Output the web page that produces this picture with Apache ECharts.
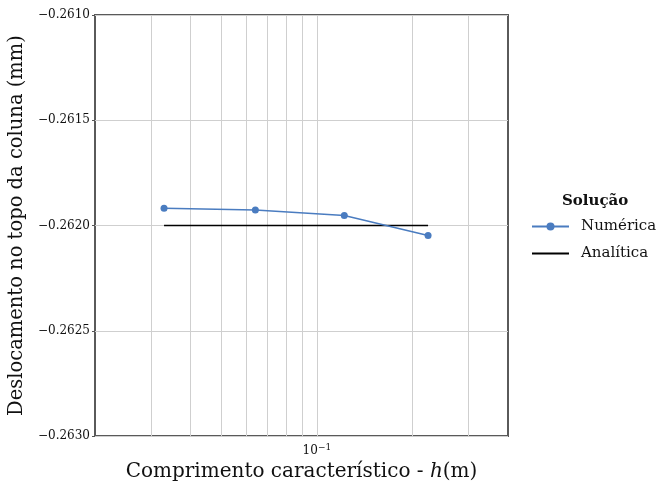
<!DOCTYPE html>
<html>
<head>
<meta charset="utf-8">
<script src="https://cdn.jsdelivr.net/npm/echarts@6/dist/echarts.min.js"></script>
<style>
  html, body { margin: 0; padding: 0; background: #fff; }
  #chart { width: 657px; height: 483px; }
</style>
</head>
<body>
<div id="chart"></div>
<script>
// Characteristic length h (m) and top-of-column displacement (mm)
const hNumerica = [0.033, 0.064, 0.122, 0.224];
const deslocNumerica = [-0.261918, -0.261926, -0.261952, -0.262048];
const hAnalitica = [0.033, 0.224];
const deslocAnalitica = [-0.2620, -0.2620];

// Log-axis grid positions (minor decades) and y ticks
const xGrid = [0.03, 0.04, 0.05, 0.06, 0.07, 0.08, 0.09, 0.1, 0.2, 0.3];
const yMin = -0.2630, yMax = -0.2610, yStep = 0.0005;

const serif = '"DejaVu Serif", "Liberation Serif", serif';
const blue = '#4a7cc0';

const chart = echarts.init(document.getElementById('chart'));
chart.setOption({
  animation: false,
  backgroundColor: '#fff',
  grid: {
    left: 95, right: 149, top: 15, bottom: 47,
    containLabel: false,
    outerBoundsMode: 'none',
    show: true, borderColor: '#5a5a5a', borderWidth: 2
  },
  title: {
    text: 'Solução',
    left: 557, top: 189,
    textStyle: { fontFamily: serif, fontWeight: 'bold', fontSize: 15, color: '#111' }
  },
  legend: {
    orient: 'vertical',
    left: 526, top: 214,
    itemWidth: 37, itemHeight: 10, itemGap: 12,
    textStyle: { fontFamily: serif, fontSize: 15, color: '#111', padding: [0, 0, 0, 7] },
    data: [
      { name: 'Numérica' },
      { name: 'Analítica', itemStyle: { opacity: 0 } }
    ]
  },
  xAxis: {
    type: 'log',
    logBase: 10,
    min: 0.02, max: 0.4,
    name: 'Comprimento característico - {i|h}(m)',
    nameLocation: 'middle',
    nameGap: 26,
    nameTextStyle: {
      fontFamily: serif, fontSize: 20, color: '#111',
      rich: { i: { fontFamily: serif, fontStyle: 'italic', fontSize: 20, color: '#111' } }
    },
    axisLine: { show: false },
    axisTick: { show: false },
    splitLine: { show: false },
    axisLabel: {
      showMinLabel: false, showMaxLabel: false,
      margin: 7,
      formatter: v => Math.abs(Math.log10(v) + 1) < 1e-6 ? '10{s|−1}' : '',
      fontFamily: serif, fontSize: 12, color: '#111',
      rich: { s: { fontFamily: serif, fontSize: 9, color: '#111', verticalAlign: 'top', padding: [0, 0, 6, 0] } }
    }
  },
  yAxis: {
    type: 'value',
    min: yMin, max: yMax, interval: yStep,
    name: 'Deslocamento no topo da coluna (mm)',
    nameLocation: 'middle',
    nameGap: 65,
    nameTextStyle: { fontFamily: serif, fontSize: 19.5, color: '#111' },
    axisLine: { show: false },
    axisTick: { show: true, length: 3, lineStyle: { color: '#555' } },
    splitLine: { show: true, lineStyle: { color: '#cfcfcf', width: 1 } },
    axisLabel: {
      margin: 5,
      fontFamily: serif, fontSize: 12, color: '#111',
      formatter: v => '−' + Math.abs(v).toFixed(4)
    }
  },
  series: [
    {
      name: 'Numérica',
      type: 'line',
      data: hNumerica.map((h, i) => [h, deslocNumerica[i]]),
      symbol: 'circle', symbolSize: 7,
      itemStyle: { color: blue },
      lineStyle: { color: blue, width: 1.5 },
      z: 5,
      markLine: {
        silent: true,
        symbol: 'none',
        label: { show: false },
        lineStyle: { color: '#cfcfcf', width: 1, type: 'solid' },
        data: xGrid.map(v => ({ xAxis: v })),
        z: 1
      }
    },
    {
      name: 'Analítica',
      type: 'line',
      data: hAnalitica.map((h, i) => [h, deslocAnalitica[i]]),
      symbol: 'none',
      itemStyle: { color: '#000' },
      lineStyle: { color: '#000', width: 1.5 },
      z: 4
    }
  ]
});
</script>
</body>
</html>
